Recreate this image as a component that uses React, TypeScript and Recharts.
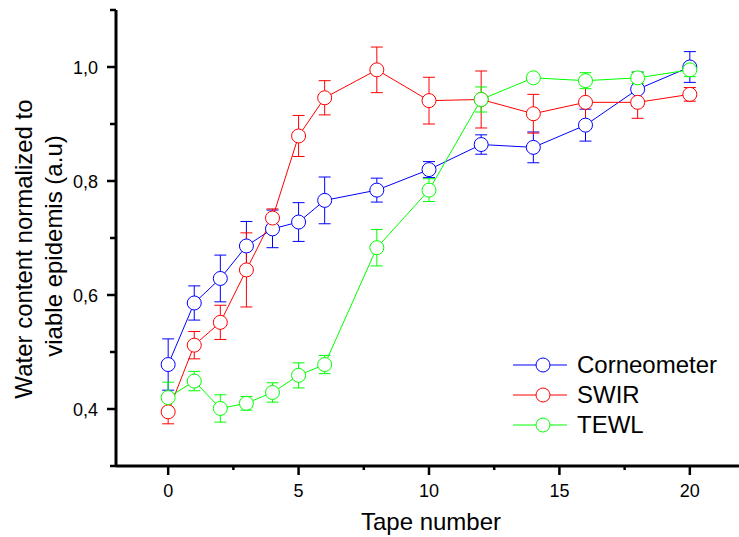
import { LineChart, Line, XAxis, YAxis, ErrorBar, Legend } from "recharts";

const tapes = [0, 1, 2, 3, 4, 5, 6, 8, 10, 12, 14, 16, 18, 20];
const corneometer = [0.478, 0.586, 0.629, 0.686, 0.716, 0.728, 0.766, 0.784, 0.82, 0.864, 0.859, 0.898, 0.961, 1.0];
const corneometerErr = [0.045, 0.03, 0.041, 0.043, 0.033, 0.034, 0.041, 0.021, 0.014, 0.017, 0.027, 0.028, 0.03, 0.027];
const swir = [0.395, 0.512, 0.552, 0.644, 0.735, 0.879, 0.946, 0.995, 0.941, 0.943, 0.918, 0.938, 0.938, 0.952];
const swirErr = [0.021, 0.024, 0.03, 0.065, 0.016, 0.036, 0.03, 0.04, 0.041, 0.05, 0.034, 0.036, 0.028, 0.012];
const tewl = [0.42, 0.449, 0.401, 0.41, 0.429, 0.459, 0.478, 0.683, 0.784, 0.943, 0.981, 0.976, 0.981, 0.995];
const tewlErr = [0.027, 0.017, 0.024, 0.012, 0.017, 0.022, 0.016, 0.032, 0.02, 0.022, 0.006, 0.014, 0.01, 0.012];

const xTicks = [0, 2.5, 5, 7.5, 10, 12.5, 15, 17.5, 20];
const yTicks = [0.3, 0.4, 0.5, 0.6, 0.7, 0.8, 0.9, 1.0, 1.1];

const series = [
  { key: "corneometer", name: "Corneometer", color: "#0000ff" },
  { key: "swir", name: "SWIR", color: "#ff0000" },
  { key: "tewl", name: "TEWL", color: "#00ff00" },
];

const data = tapes.map((t, i) => ({
  t,
  corneometer: corneometer[i],
  corneometerErr: corneometerErr[i],
  swir: swir[i],
  swirErr: swirErr[i],
  tewl: tewl[i],
  tewlErr: tewlErr[i],
}));

const FONT = '"Liberation Sans", Arial, sans-serif';
const isMajorX = (v: number) => v % 5 === 0;
const isMajorY = (v: number) => Math.round(v * 10) % 2 === 0;

const BottomTick = ({ x, y, payload }: any) => {
  const major = isMajorX(payload.value);
  return (
    <g>
      <line x1={x} y1={y} x2={x} y2={y + (major ? 9 : 4)} stroke="#000" strokeWidth={2.5} />
      {major && (
        <text x={x} y={y + 31} textAnchor="middle" fontSize={18} fontFamily={FONT} fill="#000">
          {payload.value}
        </text>
      )}
    </g>
  );
};

const TopTick = ({ x, y, payload }: any) => {
  const major = isMajorX(payload.value);
  return <line x1={x} y1={y} x2={x} y2={y + (major ? 9 : 6)} stroke="#000" strokeWidth={2.5} />;
};

const LeftTick = ({ x, y, payload }: any) => {
  const major = isMajorY(payload.value);
  return (
    <g>
      <line x1={x} y1={y} x2={x - (major ? 9 : 6)} y2={y} stroke="#000" strokeWidth={2.5} />
      {major && (
        <text x={x - 18} y={y + 6.5} textAnchor="end" fontSize={18} fontFamily={FONT} fill="#000">
          {payload.value.toFixed(1).replace(".", ",")}
        </text>
      )}
    </g>
  );
};

const RightTick = ({ x, y, payload }: any) => {
  const major = isMajorY(payload.value);
  return <line x1={x} y1={y} x2={x - (major ? 9 : 6)} y2={y} stroke="#000" strokeWidth={2.5} />;
};

const YTitle = () => (
  <g fontFamily={FONT} fontSize={24} fill="#000">
    <text x={32} y={249} textAnchor="middle" transform="rotate(-90, 32, 249)">
      Water content normalized to
    </text>
    <text x={62} y={246} textAnchor="middle" transform="rotate(-90, 62, 246)">
      viable epidemis (a.u)
    </text>
  </g>
);

const XTitle = () => (
  <text x={431} y={530} textAnchor="middle" fontFamily={FONT} fontSize={24} fill="#000">
    Tape number
  </text>
);

const LegendBox = () => (
  <div style={{ fontFamily: FONT, fontSize: 24, color: "#000" }}>
    {series.map((s) => (
      <div key={s.key} style={{ display: "flex", alignItems: "center", height: 30 }}>
        <svg width={56} height={30} style={{ display: "block" }}>
          <line x1={0} y1={15} x2={54} y2={15} stroke={s.color} strokeWidth={1} />
          <circle cx={30} cy={15} r={7} fill="#fff" stroke={s.color} strokeWidth={1} />
        </svg>
        <span style={{ marginLeft: 8, lineHeight: "30px" }}>{s.name}</span>
      </div>
    ))}
  </div>
);

export default function App() {
  return (
    <div style={{ position: "absolute", left: 0, top: 0, width: 739, height: 537, overflow: "hidden", background: "#fff" }}>
      <LineChart width={746} height={537} data={data} margin={{ top: 10, right: 4, left: 0, bottom: 0 }}>
        <XAxis
          xAxisId="bottom"
          dataKey="t"
          type="number"
          domain={[-2, 22]}
          ticks={xTicks}
          allowDataOverflow
          height={71}
          tickSize={0}
          tickMargin={0}
          tickLine={false}
          axisLine={{ stroke: "#000", strokeWidth: 3 }}
          tick={<BottomTick />}
          interval={0}
          label={{ content: () => <XTitle /> }}
        />
        <XAxis
          xAxisId="top"
          orientation="top"
          dataKey="t"
          type="number"
          domain={[-2, 22]}
          ticks={xTicks}
          allowDataOverflow
          height={0}
          tickSize={0}
          tickMargin={0}
          tickLine={false}
          axisLine={{ stroke: "#000", strokeWidth: 3 }}
          tick={<TopTick />}
          interval={0}
        />
        <YAxis
          yAxisId="left"
          type="number"
          domain={[0.3, 1.1]}
          ticks={yTicks}
          allowDataOverflow
          width={116}
          tickSize={0}
          tickMargin={0}
          tickLine={false}
          axisLine={{ stroke: "#000", strokeWidth: 3 }}
          tick={<LeftTick />}
          interval={0}
          label={{ content: () => <YTitle /> }}
        />
        <YAxis
          yAxisId="right"
          orientation="right"
          type="number"
          domain={[0.3, 1.1]}
          ticks={yTicks}
          allowDataOverflow
          width={0}
          tickSize={0}
          tickMargin={0}
          tickLine={false}
          axisLine={{ stroke: "#000", strokeWidth: 3 }}
          tick={<RightTick />}
          interval={0}
        />
        {series.map((s) => (
          <Line
            key={s.key}
            xAxisId="bottom"
            yAxisId="left"
            dataKey={s.key}
            name={s.name}
            type="linear"
            stroke={s.color}
            strokeWidth={1}
            dot={{ r: 7, fill: "#fff", stroke: s.color, strokeWidth: 1 }}
            activeDot={false}
            isAnimationActive={false}
          >
            <ErrorBar dataKey={`${s.key}Err`} direction="y" width={6} stroke={s.color} strokeWidth={1} />
          </Line>
        ))}
        <Legend
          layout="vertical"
          align="center"
          verticalAlign="middle"
          wrapperStyle={{ left: 513, top: 350, width: 220 }}
          content={() => <LegendBox />}
        />
      </LineChart>
    </div>
  );
}
